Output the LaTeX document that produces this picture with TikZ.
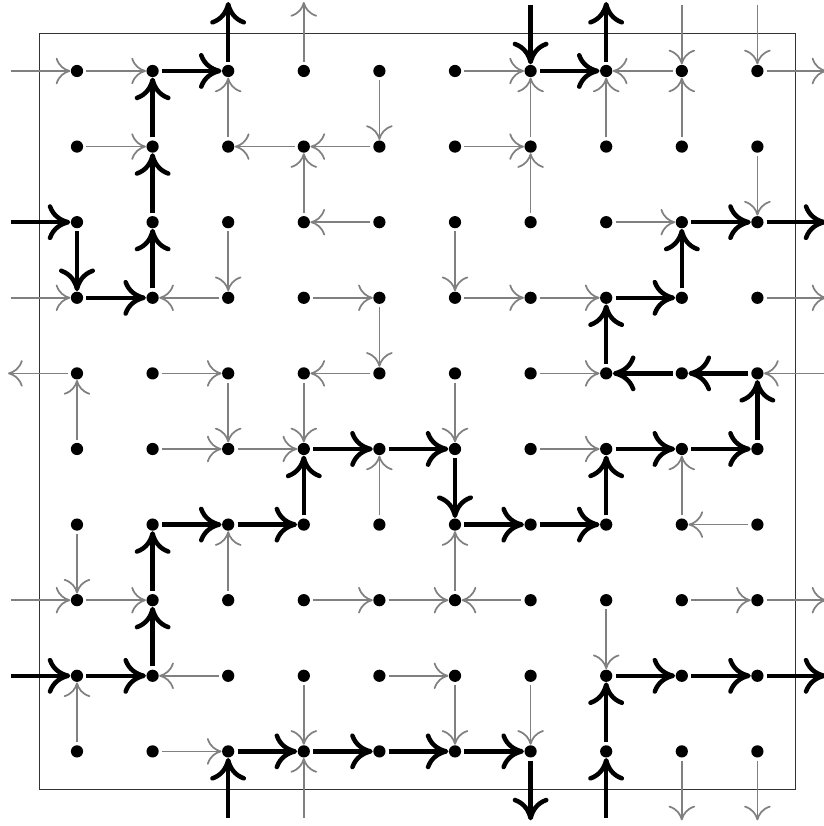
\documentclass[tikz,border=0pt]{standalone}
\usetikzlibrary{arrows.meta}
\begin{document}
\begin{tikzpicture}[
        dot/.style={circle, fill=black, inner sep=0pt, minimum size=4.6pt},
        ghost/.style={circle, inner sep=0pt, minimum size=4.6pt},
        pointer/.style={-{Computer Modern Rightarrow[length=5.5pt, width=10pt]}, gray, line width=0.65pt, shorten <=1pt},
        route/.style={-{Computer Modern Rightarrow[length=8.5pt, width=13.5pt]}, black, line width=1.7pt, shorten <=1pt},
        board/.style={draw=black!80, line width=0.4pt}
    ]
        \useasboundingbox (-1.0185,0.939) rectangle (9.881,-9.987);
        \draw[board] (-0.5,0.5) rectangle (9.5,-9.5);

        \foreach \c in {0,...,9} {
            \foreach \r in {0,...,9} {
                \node[dot] (p\c\r) at (\c,-\r) {};
            }
            \node[ghost] (n\c) at (\c,1) {};
            \node[ghost] (s\c) at (\c,-10) {};
            \node[ghost] (w\c) at (-1,-\c) {};
            \node[ghost] (e\c) at (10,-\c) {};
        }

        \draw[pointer] (w0) -- (p00);
        \draw[pointer] (p00) -- (p10);
        \draw[pointer] (p21) -- (p20);
        \draw[pointer] (p30) -- (n3);
        \draw[pointer] (p40) -- (p41);
        \draw[pointer] (p50) -- (p60);
        \draw[pointer] (p61) -- (p60);
        \draw[pointer] (p80) -- (p70);
        \draw[pointer] (p71) -- (p70);
        \draw[pointer] (n8) -- (p80);
        \draw[pointer] (p81) -- (p80);
        \draw[pointer] (n9) -- (p90);
        \draw[pointer] (p90) -- (e0);
        \draw[pointer] (p01) -- (p11);
        \draw[pointer] (p31) -- (p21);
        \draw[pointer] (p41) -- (p31);
        \draw[pointer] (p32) -- (p31);
        \draw[pointer] (p51) -- (p61);
        \draw[pointer] (p62) -- (p61);
        \draw[pointer] (p91) -- (p92);
        \draw[pointer] (p22) -- (p23);
        \draw[pointer] (p42) -- (p32);
        \draw[pointer] (p52) -- (p53);
        \draw[pointer] (p72) -- (p82);
        \draw[pointer] (w3) -- (p03);
        \draw[pointer] (p23) -- (p13);
        \draw[pointer] (p33) -- (p43);
        \draw[pointer] (p43) -- (p44);
        \draw[pointer] (p53) -- (p63);
        \draw[pointer] (p63) -- (p73);
        \draw[pointer] (p93) -- (e3);
        \draw[pointer] (p04) -- (w4);
        \draw[pointer] (p05) -- (p04);
        \draw[pointer] (p14) -- (p24);
        \draw[pointer] (p24) -- (p25);
        \draw[pointer] (p44) -- (p34);
        \draw[pointer] (p34) -- (p35);
        \draw[pointer] (p54) -- (p55);
        \draw[pointer] (p64) -- (p74);
        \draw[pointer] (e4) -- (p94);
        \draw[pointer] (p15) -- (p25);
        \draw[pointer] (p25) -- (p35);
        \draw[pointer] (p46) -- (p45);
        \draw[pointer] (p65) -- (p75);
        \draw[pointer] (p86) -- (p85);
        \draw[pointer] (p06) -- (p07);
        \draw[pointer] (p27) -- (p26);
        \draw[pointer] (p57) -- (p56);
        \draw[pointer] (p96) -- (p86);
        \draw[pointer] (w7) -- (p07);
        \draw[pointer] (p07) -- (p17);
        \draw[pointer] (p37) -- (p47);
        \draw[pointer] (p47) -- (p57);
        \draw[pointer] (p67) -- (p57);
        \draw[pointer] (p77) -- (p78);
        \draw[pointer] (p87) -- (p97);
        \draw[pointer] (p97) -- (e7);
        \draw[pointer] (p09) -- (p08);
        \draw[pointer] (p28) -- (p18);
        \draw[pointer] (p38) -- (p39);
        \draw[pointer] (p48) -- (p58);
        \draw[pointer] (p58) -- (p59);
        \draw[pointer] (p68) -- (p69);
        \draw[pointer] (p19) -- (p29);
        \draw[pointer] (s3) -- (p39);
        \draw[pointer] (p89) -- (s8);
        \draw[pointer] (p99) -- (s9);

        \draw[route] (p10) -- (p20);
        \draw[route] (p20) -- (n2);
        \draw[route] (p11) -- (p10);
        \draw[route] (n6) -- (p60);
        \draw[route] (p60) -- (p70);
        \draw[route] (p70) -- (n7);
        \draw[route] (p12) -- (p11);
        \draw[route] (w2) -- (p02);
        \draw[route] (p02) -- (p03);
        \draw[route] (p13) -- (p12);
        \draw[route] (p82) -- (p92);
        \draw[route] (p92) -- (e2);
        \draw[route] (p83) -- (p82);
        \draw[route] (p03) -- (p13);
        \draw[route] (p73) -- (p83);
        \draw[route] (p74) -- (p73);
        \draw[route] (p84) -- (p74);
        \draw[route] (p94) -- (p84);
        \draw[route] (p95) -- (p94);
        \draw[route] (p35) -- (p45);
        \draw[route] (p45) -- (p55);
        \draw[route] (p55) -- (p56);
        \draw[route] (p36) -- (p35);
        \draw[route] (p75) -- (p85);
        \draw[route] (p85) -- (p95);
        \draw[route] (p76) -- (p75);
        \draw[route] (p16) -- (p26);
        \draw[route] (p26) -- (p36);
        \draw[route] (p17) -- (p16);
        \draw[route] (p56) -- (p66);
        \draw[route] (p66) -- (p76);
        \draw[route] (p18) -- (p17);
        \draw[route] (w8) -- (p08);
        \draw[route] (p08) -- (p18);
        \draw[route] (p78) -- (p88);
        \draw[route] (p88) -- (p98);
        \draw[route] (p98) -- (e8);
        \draw[route] (p79) -- (p78);
        \draw[route] (s2) -- (p29);
        \draw[route] (p29) -- (p39);
        \draw[route] (p39) -- (p49);
        \draw[route] (p49) -- (p59);
        \draw[route] (p59) -- (p69);
        \draw[route] (p69) -- (s6);
        \draw[route] (s7) -- (p79);
\end{tikzpicture}
\end{document}
